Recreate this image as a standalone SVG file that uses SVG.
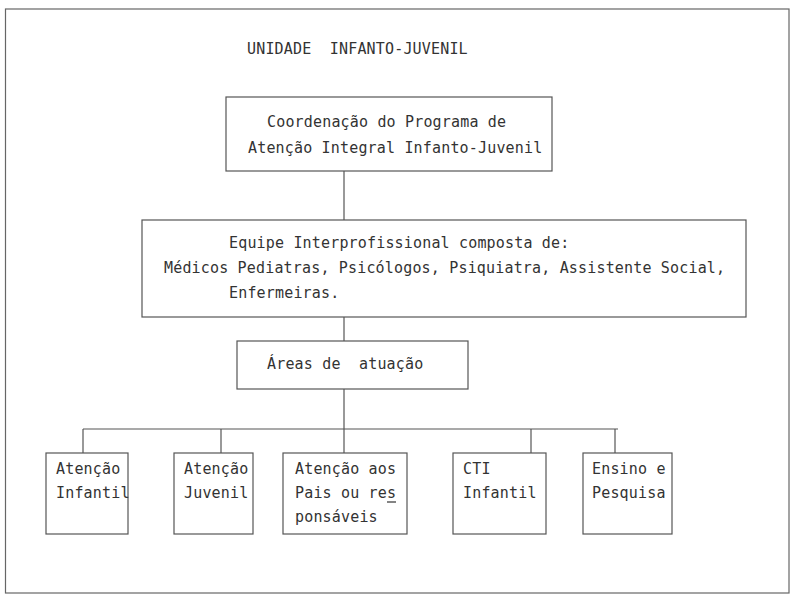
<svg xmlns="http://www.w3.org/2000/svg" width="792" height="595" viewBox="0 0 792 595">
<style>
text{font-family:"DejaVu Sans Mono","Liberation Mono",monospace;font-size:15px;letter-spacing:0.17px;fill:#333}
.box{fill:none;stroke:#555;stroke-width:1.2}
.frame{fill:none;stroke:#666;stroke-width:1.2}
.conn line{stroke:#555;stroke-width:1.2}
</style>
<rect width="792" height="595" fill="#fff"/>
<rect class="frame" x="5.5" y="9" width="783.5" height="584"/>
<g id="title"><text x="247" y="54" xml:space="preserve">UNIDADE  INFANTO-JUVENIL</text></g>
<g class="conn" id="connectors">
<line x1="344" y1="171" x2="344" y2="220"/>
<line x1="344" y1="317" x2="344" y2="341"/>
<line x1="344" y1="389" x2="344" y2="453"/>
<line x1="83" y1="429" x2="618" y2="429"/>
<line x1="83" y1="429" x2="83" y2="453"/>
<line x1="221" y1="429" x2="221" y2="453"/>
<line x1="531" y1="429" x2="531" y2="453"/>
<line x1="615" y1="429" x2="615" y2="453"/>
</g>
<g id="coordenacao">
<rect class="box" x="226" y="97" width="326" height="74"/>
<text x="267" y="127">Coordenação do Programa de</text>
<text x="248" y="153">Atenção Integral Infanto-Juvenil</text>
</g>
<g id="equipe">
<rect class="box" x="142" y="220" width="604" height="97"/>
<text x="229" y="248">Equipe Interprofissional composta de:</text>
<text x="164" y="273">Médicos Pediatras, Psicólogos, Psiquiatra, Assistente Social,</text>
<text x="229" y="298">Enfermeiras.</text>
</g>
<g id="areas">
<rect class="box" x="237" y="341" width="231" height="48"/>
<text x="267" y="369" xml:space="preserve">Áreas de  atuação</text>
</g>
<g id="atencao-infantil">
<rect class="box" x="46" y="453" width="82" height="81"/>
<text x="56" y="474">Atenção</text>
<text x="56" y="498">Infantil</text>
</g>
<g id="atencao-juvenil">
<rect class="box" x="174" y="453" width="79" height="81"/>
<text x="184" y="474">Atenção</text>
<text x="184" y="498">Juvenil</text>
</g>
<g id="atencao-pais">
<rect class="box" x="283" y="453" width="124" height="81"/>
<text x="295" y="474">Atenção aos</text>
<text x="295" y="498">Pais ou res</text>
<line x1="387" y1="502" x2="396" y2="502" stroke="#333" stroke-width="1.2"/>
<text x="295" y="522">ponsáveis</text>
</g>
<g id="cti">
<rect class="box" x="453" y="453" width="93" height="81"/>
<text x="463" y="474">CTI</text>
<text x="463" y="498">Infantil</text>
</g>
<g id="ensino">
<rect class="box" x="583" y="453" width="89" height="81"/>
<text x="592" y="474">Ensino e</text>
<text x="592" y="498">Pesquisa</text>
</g>
</svg>
